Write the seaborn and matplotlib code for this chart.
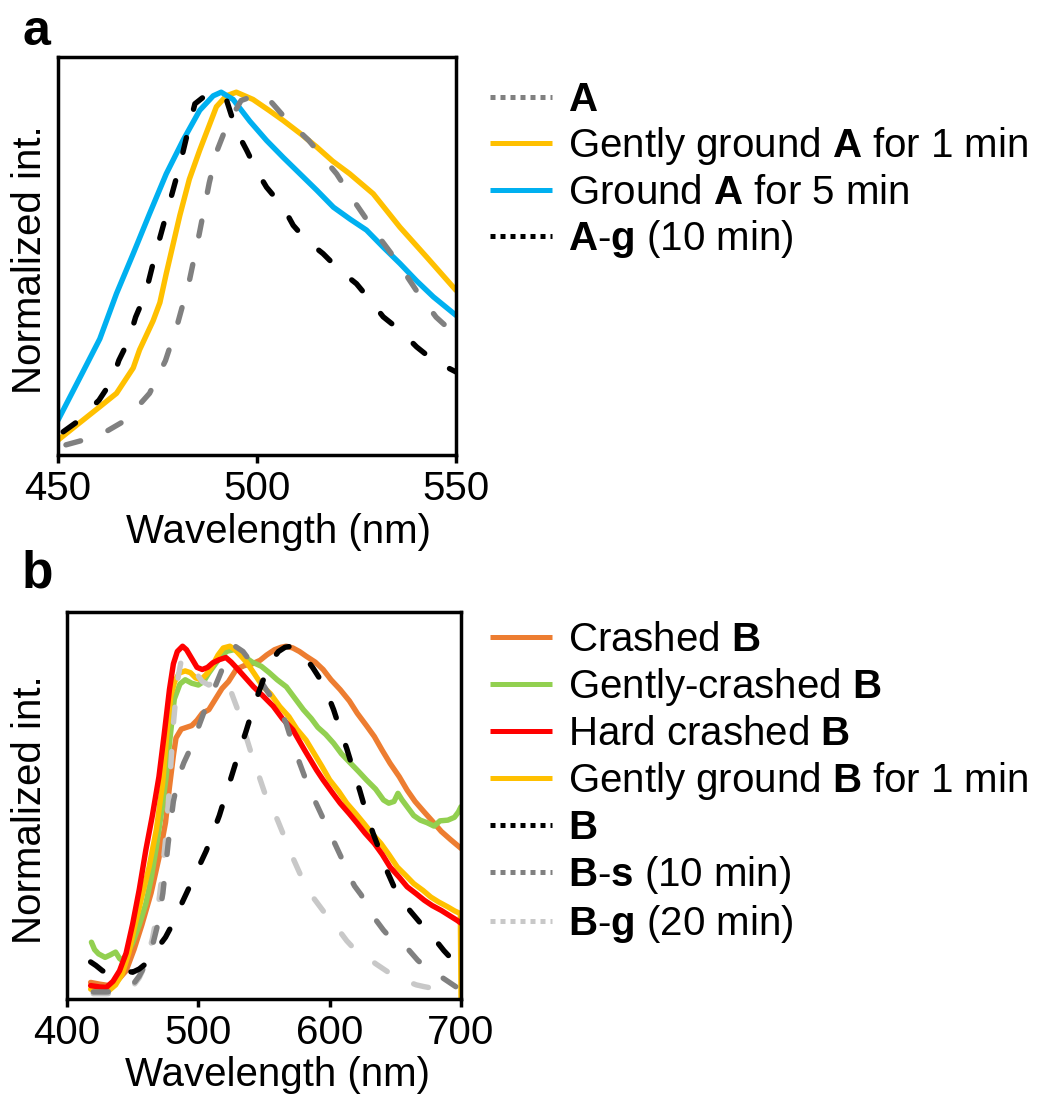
import matplotlib
matplotlib.use("Agg")
import matplotlib.pyplot as plt
from matplotlib.lines import Line2D
import seaborn as sns

# ---------------- Panel a data ----------------
wl_A = [452, 456, 462, 467, 473, 477, 480, 483, 485.5, 488, 490, 492.5, 496, 500.5, 503, 507, 513, 520, 525, 530, 535, 540, 545, 548, 550]
int_A = [0.028, 0.04, 0.064, 0.096, 0.17, 0.26, 0.36, 0.48, 0.61, 0.75, 0.84, 0.91, 0.977, 0.995, 0.98, 0.93, 0.867, 0.775, 0.69, 0.61, 0.537, 0.454, 0.38, 0.35, 0.33]

wl_A1 = [450, 455, 460.5, 464.7, 468.9, 470.5, 473.9, 475.6, 477.2, 480.6, 483, 485.6, 489.8, 492.3, 494.8, 499, 503, 506.6, 511, 515, 519, 523.3, 529.2, 535.9, 542.6, 550]
int_A1 = [0.041, 0.085, 0.133, 0.17, 0.24, 0.29, 0.37, 0.42, 0.5, 0.66, 0.76, 0.84, 0.96, 0.99, 1.0, 0.98, 0.95, 0.922, 0.885, 0.849, 0.81, 0.775, 0.72, 0.628, 0.546, 0.454]

wl_A5 = [450, 456.3, 460.5, 464.7, 468.9, 473, 477.2, 481.4, 485.6, 489, 491, 494, 498.2, 502.4, 506.6, 510.8, 515, 519.2, 523.4, 527.5, 531.7, 535.9, 540.1, 544.3, 550]
int_A5 = [0.096, 0.23, 0.32, 0.445, 0.555, 0.665, 0.775, 0.867, 0.95, 0.99, 1.0, 0.98, 0.92, 0.867, 0.82, 0.775, 0.73, 0.683, 0.65, 0.62, 0.573, 0.528, 0.48, 0.436, 0.385]

wl_Ag = [451.3, 454.6, 460.3, 463.6, 465.3, 467.8, 469.5, 472, 474.5, 477.9, 480.4, 483, 484.4, 488.1, 492.3, 494.8, 497.4, 499.9, 502.4, 506.6, 509.1, 512.4, 516.6, 520.8, 525, 528.4, 531.7, 535.9, 540.1, 544.3, 550]
int_Ag = [0.064, 0.09, 0.151, 0.206, 0.261, 0.317, 0.38, 0.445, 0.555, 0.69, 0.79, 0.908, 0.968, 1.0, 0.98, 0.894, 0.84, 0.784, 0.738, 0.683, 0.633, 0.592, 0.555, 0.509, 0.472, 0.427, 0.381, 0.344, 0.298, 0.261, 0.229]

# ---------------- Panel b data ----------------
wl_Bc = [418, 425, 432, 438, 445, 451, 457, 464, 470, 475, 478, 481, 483, 487, 491, 495, 499, 503, 508, 513, 518, 523, 529, 535, 541, 547, 552, 558, 563, 567, 572, 577, 582, 589, 595, 601, 608, 615, 621, 628, 634, 640, 646, 653, 659, 665, 672, 678, 685, 692, 700]
int_Bc = [0.047, 0.042, 0.038, 0.05, 0.08, 0.14, 0.21, 0.3, 0.40, 0.5, 0.6, 0.69, 0.74, 0.765, 0.77, 0.775, 0.79, 0.81, 0.82, 0.85, 0.88, 0.9, 0.935, 0.945, 0.95, 0.96, 0.975, 0.99, 0.997, 1.0, 0.995, 0.985, 0.972, 0.955, 0.934, 0.905, 0.877, 0.845, 0.81, 0.775, 0.744, 0.705, 0.668, 0.63, 0.592, 0.56, 0.53, 0.505, 0.475, 0.452, 0.427]

wl_Bgc = [418.6, 421, 424, 429, 433, 437, 440, 442, 446, 450, 455, 460, 464, 468, 472.8, 475.5, 477.9, 481.7, 486, 490, 495, 500, 504, 508, 513, 518, 522, 527, 532, 536, 541, 548, 554, 560, 567, 574, 580, 586, 591, 597, 603, 609, 616, 622, 628, 635, 641, 645, 649, 652, 655, 659, 664, 669, 674, 679.5, 684, 690, 695, 698, 700]
int_Bgc = [0.161, 0.14, 0.128, 0.118, 0.125, 0.133, 0.115, 0.109, 0.13, 0.16, 0.21, 0.27, 0.34, 0.43, 0.55, 0.63, 0.72, 0.85, 0.893, 0.905, 0.895, 0.89, 0.9, 0.924, 0.95, 0.975, 0.986, 0.99, 0.985, 0.968, 0.955, 0.943, 0.925, 0.905, 0.885, 0.85, 0.82, 0.795, 0.77, 0.75, 0.725, 0.695, 0.668, 0.645, 0.621, 0.595, 0.564, 0.555, 0.56, 0.583, 0.565, 0.545, 0.52, 0.507, 0.50, 0.49, 0.505, 0.507, 0.515, 0.53, 0.545]

wl_Bh = [418, 425, 430, 435, 440, 445, 450, 455, 460, 465, 470, 474, 478, 481, 484, 488, 491, 495, 499, 503, 507, 511, 516, 521, 525, 530, 536, 542, 549, 557, 564, 572, 581, 590, 595, 602, 608, 615, 621, 627, 634, 640, 646, 653, 659, 666, 672, 678, 685, 691, 697, 700]
int_Bh = [0.038, 0.034, 0.033, 0.05, 0.08, 0.13, 0.213, 0.31, 0.422, 0.52, 0.63, 0.75, 0.877, 0.95, 0.985, 1.0, 0.99, 0.965, 0.94, 0.934, 0.94, 0.953, 0.962, 0.968, 0.955, 0.935, 0.91, 0.885, 0.86, 0.83, 0.795, 0.763, 0.705, 0.649, 0.621, 0.585, 0.555, 0.525, 0.498, 0.47, 0.441, 0.41, 0.374, 0.345, 0.318, 0.298, 0.28, 0.265, 0.251, 0.237, 0.223, 0.215]

wl_Bg1 = [418, 425, 432, 437, 442, 447, 452, 457, 462.5, 468, 472.8, 476, 479, 482, 485.5, 490, 494, 498, 502, 506, 510, 515, 519, 524, 528, 533, 537, 543, 549, 555, 562, 569, 575, 582, 588, 594, 600, 607, 613, 620, 626, 632, 639, 645, 651.5, 658, 664, 671, 677, 683, 690, 695, 699.5, 700]
int_Bg1 = [0.028, 0.025, 0.024, 0.04, 0.071, 0.13, 0.213, 0.29, 0.374, 0.48, 0.611, 0.75, 0.858, 0.9, 0.924, 0.93, 0.925, 0.91, 0.905, 0.92, 0.94, 0.975, 0.995, 1.0, 0.99, 0.97, 0.953, 0.92, 0.886, 0.865, 0.829, 0.8, 0.765, 0.734, 0.697, 0.66, 0.621, 0.588, 0.555, 0.525, 0.498, 0.47, 0.441, 0.41, 0.374, 0.35, 0.327, 0.308, 0.289, 0.275, 0.261, 0.25, 0.242, 0.0]

wl_B = [418, 422, 427, 432, 438, 444, 450, 455, 460, 465, 470, 475, 480, 486, 491, 496, 501, 506, 511, 516, 521, 526, 531, 536, 541, 546, 551, 556, 561, 566, 571, 576, 581, 587, 593, 598, 603, 608, 613, 618, 623, 628, 633, 639, 644, 649, 655, 661, 668, 674, 681, 687, 693, 700]
int_B = [0.105, 0.095, 0.08, 0.072, 0.08, 0.08, 0.076, 0.085, 0.1, 0.125, 0.15, 0.175, 0.21, 0.26, 0.3, 0.34, 0.38, 0.42, 0.47, 0.52, 0.58, 0.64, 0.7, 0.755, 0.815, 0.87, 0.92, 0.96, 0.985, 0.997, 1.0, 0.99, 0.97, 0.94, 0.905, 0.867, 0.82, 0.763, 0.71, 0.649, 0.59, 0.526, 0.47, 0.412, 0.36, 0.318, 0.285, 0.251, 0.22, 0.194, 0.165, 0.137, 0.113, 0.09]

wl_Bs = [420, 430, 440, 446, 450, 455, 460, 465, 469, 473, 477, 481, 485, 489, 494, 499, 505, 511, 516, 522, 528, 534, 540, 547, 552, 557, 562, 567, 572, 577, 583, 589, 594, 599, 604, 609, 614, 619, 624, 629, 635, 641, 647, 654, 660, 667, 673, 680, 686, 692, 700]
int_Bs = [0.02, 0.02, 0.022, 0.03, 0.04, 0.065, 0.1, 0.15, 0.21, 0.3, 0.44, 0.56, 0.63, 0.67, 0.71, 0.76, 0.82, 0.87, 0.915, 0.97, 1.0, 0.985, 0.955, 0.905, 0.875, 0.848, 0.82, 0.78, 0.72, 0.67, 0.61, 0.56, 0.52, 0.48, 0.44, 0.40, 0.355, 0.32, 0.295, 0.26, 0.225, 0.195, 0.17, 0.155, 0.14, 0.11, 0.09, 0.075, 0.06, 0.045, 0.025]

wl_Bgg = [420, 430, 440, 446, 450, 455, 460, 465, 469, 472, 475, 478, 481, 484, 487, 490, 494, 499, 503, 508, 512, 517, 521, 525, 530, 535, 540, 545, 550, 555, 560, 566, 572, 578, 584, 590, 597, 603, 608, 613, 618, 624, 629, 635, 641, 647, 653, 659, 666, 672, 679, 686, 695]
int_Bgg = [0.015, 0.015, 0.018, 0.025, 0.035, 0.06, 0.1, 0.17, 0.25, 0.34, 0.45, 0.6, 0.78, 0.9, 0.96, 0.965, 0.945, 0.92, 0.9, 0.89, 0.9, 0.9, 0.895, 0.87, 0.82, 0.76, 0.70, 0.645, 0.59, 0.54, 0.51, 0.455, 0.4, 0.35, 0.305, 0.275, 0.24, 0.215, 0.19, 0.165, 0.145, 0.13, 0.117, 0.1, 0.085, 0.07, 0.06, 0.05, 0.04, 0.035, 0.03, 0.022, 0.015]

labels_a = [r"$\mathbf{A}$", r"Gently ground $\mathbf{A}$ for 1 min", r"Ground $\mathbf{A}$ for 5 min", r"$\mathbf{A}$-$\mathbf{g}$ (10 min)"]
labels_b = [r"Crashed $\mathbf{B}$", r"Gently-crashed $\mathbf{B}$", r"Hard crashed $\mathbf{B}$", r"Gently ground $\mathbf{B}$ for 1 min", r"$\mathbf{B}$", r"$\mathbf{B}$-$\mathbf{s}$ (10 min)", r"$\mathbf{B}$-$\mathbf{g}$ (20 min)"]

# ---------------- styling ----------------
sns.set_style("white")
plt.rcParams['font.family'] = ['Liberation Sans', 'DejaVu Sans']
plt.rcParams['mathtext.fontset'] = 'custom'
plt.rcParams['mathtext.rm'] = 'Liberation Sans'
plt.rcParams['mathtext.it'] = 'Liberation Sans:italic'
plt.rcParams['mathtext.bf'] = 'Liberation Sans:bold'
plt.rcParams['text.color'] = 'black'
plt.rcParams['axes.labelcolor'] = 'black'
plt.rcParams['xtick.color'] = 'black'
plt.rcParams['ytick.color'] = 'black'

C_GRAY = "#808080"
C_LGRAY = "#C8C8C8"
C_YEL = "#FFC000"
C_BLUE = "#00B0F0"
C_ORG = "#ED7D31"
C_GRN = "#92D050"
C_RED = "#FF0000"
C_BLK = "#000000"

LW = 3.9
DASH = (0, (2.8, 5.4))
DOT = (0, (1.0, 1.0))
FS = 29

W, H = 1039, 1095
fig = plt.figure(figsize=(W / 100, H / 100), dpi=100)

def px_axes(l, t, r, b):
    return fig.add_axes([l / W, 1 - b / H, (r - l) / W, (b - t) / H])

ax_a = px_axes(58, 57, 456, 455)
ax_b = px_axes(67, 612, 461, 999)

def draw(ax, x, y, color, ls):
    sns.lineplot(x=x, y=y, ax=ax, color=color, lw=LW, linestyle=ls,
                 estimator=None, sort=False, legend=False,
                 dash_capstyle='round', solid_joinstyle='round', dash_joinstyle='round')

# panel a
draw(ax_a, wl_A1, int_A1, C_YEL, "-")
draw(ax_a, wl_A5, int_A5, C_BLUE, "-")
draw(ax_a, wl_A, int_A, C_GRAY, DASH)
draw(ax_a, wl_Ag, int_Ag, C_BLK, DASH)

# panel b
draw(ax_b, wl_Bc, int_Bc, C_ORG, "-")
draw(ax_b, wl_Bgc, int_Bgc, C_GRN, "-")
draw(ax_b, wl_Bg1, int_Bg1, C_YEL, "-")
draw(ax_b, wl_Bh, int_Bh, C_RED, "-")
draw(ax_b, wl_Bgg, int_Bgg, C_LGRAY, DASH)
draw(ax_b, wl_Bs, int_Bs, C_GRAY, DASH)
draw(ax_b, wl_B, int_B, C_BLK, DASH)

for ax, xlim, ticks, lab_x, lab_y, ylab_x in [
        (ax_a, (450, 550), [450, 500, 550], 0.553, -0.145, -0.022),
        (ax_b, (400, 700), [400, 500, 600, 700], 0.535, -0.148, -0.045)]:
    ax.set_xlim(*xlim)
    ax.set_ylim(0, 1.097)
    ax.set_xticks(ticks)
    ax.set_yticks([])
    for s in ax.spines.values():
        s.set_visible(True)
        s.set_linewidth(2.5)
        s.set_color("black")
    ax.tick_params(axis='x', direction='out', length=6, width=2.5, labelsize=FS, pad=5, bottom=True)
    ax.set_xlabel("Wavelength (nm)", fontsize=FS)
    ax.set_ylabel("Normalized int.", fontsize=FS)
    ax.xaxis.set_label_coords(lab_x, lab_y)
    ax.yaxis.set_label_coords(ylab_x, 0.49)

# legends
def handles(spec):
    return [Line2D([], [], color=c, lw=3.6, linestyle=ls, solid_capstyle='butt', dash_capstyle='butt') for c, ls in spec]

ha = handles([(C_GRAY, DOT), (C_YEL, "-"), (C_BLUE, "-"), (C_BLK, DOT)])
hb = handles([(C_ORG, "-"), (C_GRN, "-"), (C_RED, "-"), (C_YEL, "-"), (C_BLK, DOT), (C_GRAY, DOT), (C_LGRAY, DOT)])

leg_kw = dict(loc="upper left", frameon=False, fontsize=FS, borderpad=0, borderaxespad=0,
              handlelength=62 / 40.3, handletextpad=0.4)
fig.legend(ha, labels_a, bbox_to_anchor=(490 / W, 1 - 81 / H), labelspacing=0.16, **leg_kw)
fig.legend(hb, labels_b, bbox_to_anchor=(490 / W, 1 - 621 / H), labelspacing=0.175, **leg_kw)

fig.text(22 / W, 1 - 45 / H, "a", fontsize=36, fontweight="bold")
fig.text(22 / W, 1 - 588 / H, "b", fontsize=37, fontweight="bold")

fig.savefig("out.png", dpi=100)
